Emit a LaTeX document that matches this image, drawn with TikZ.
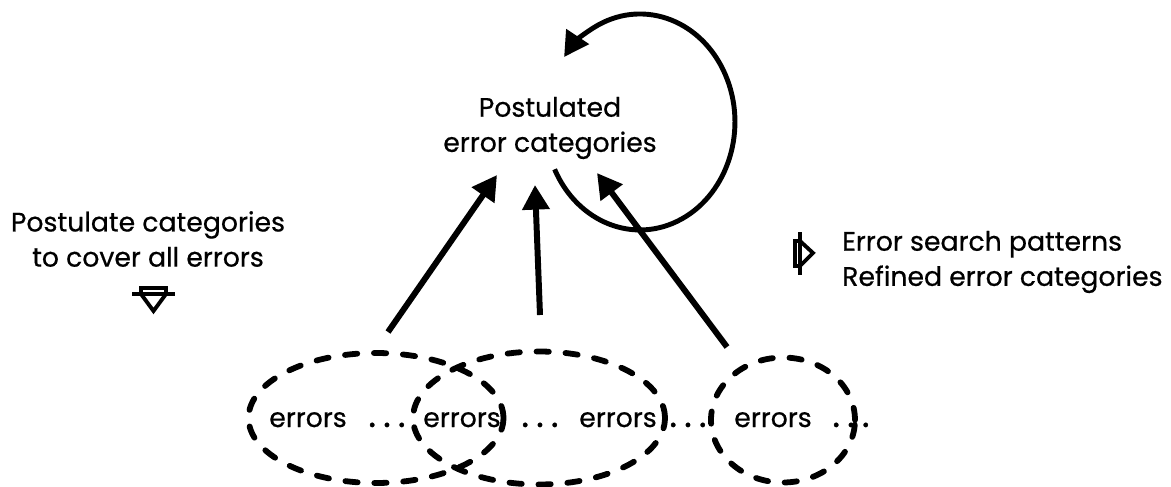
\documentclass[tikz,border=0pt]{standalone}
\usepackage{fontspec}
\setsansfont{Poppins}[FakeBold=0.6]
\usetikzlibrary{arrows.meta,shapes.geometric}
\tikzset{every picture/.style={/utils/exec={\sffamily}}}
\tikzset{
	bigarrow/.style={line width=3.4pt, -{Triangle[length=14pt,width=15pt]}},
	errset/.style={draw, ellipse, inner sep=0pt, line width=3.3pt, line cap=round, dash pattern=on 7pt off 9.5pt},
	hollow/.style={line width=2.2pt, line join=miter},
	word/.style={anchor=base, inner sep=0pt}
}
\newcommand{\gapdots}{{\fontsize{21}{21}\selectfont .\kern4pt.\kern4pt.}}

\begin{document}
\begin{tikzpicture}[x=0.02cm, y=-0.02cm, font=\fontsize{15.2}{20}\selectfont]
		\useasboundingbox (0,0) rectangle (1171,487);

		% the three sets of errors
		\node[errset, minimum width=5.1cm, minimum height=2.6cm] (e1) at (376,418) {};
		\node[errset, minimum width=5.04cm, minimum height=2.66cm] (e2) at (539,418) {};
		\node[errset, minimum width=2.88cm, minimum height=2.5cm] (e3) at (783,420) {};

		\node[word] (w1) at (308,427) {errors};
		\node[word] (d1) at (387,427) {\gapdots};
		\node[word] (w2) at (462,427) {errors};
		\node[word] (d2) at (540,427) {\gapdots};
		\node[word] (w3) at (618,427) {errors};
		\node[word] (d3) at (688,427) {\gapdots};
		\node[word] (w4) at (773,427) {errors};
		\node[word] (d4) at (851,427) {\gapdots};

		\node[align=center] (cat) at (550,128) {Postulated\\error categories};
		\node[align=center] (how) at (148,239) {Postulate categories\\to cover all errors};
		\node[align=left, anchor=west] (out) at (836,262) {Error search patterns\\Refined error categories};

		% arrows up to the categories
		\coordinate (t1) at (388,332);
		\coordinate (t2) at (540,315);
		\coordinate (t3) at (727,347);
		\coordinate (h1) at (497,175);
		\coordinate (h2) at (535,185);
		\coordinate (h3) at (597,173);
		\draw[bigarrow] (t1) -- (h1);
		\draw[bigarrow] (t2) -- (h2);
		\draw[bigarrow] (t3) -- (h3);

		% refinement loop
		\coordinate (lp) at (554.6,169.3);
		\draw[line width=2.8pt, -{Triangle[length=14pt,width=15pt]}] (lp) arc[start angle=206, end angle=503, x radius=1.9cm, y radius=2.16cm];

		% hollow marks
		\draw[hollow] (141,288) -- (166,288) -- (166,294) -- (153.5,311) -- (141,294) -- cycle;
		\draw[hollow] (132,294) -- (175,294);
		\draw[hollow] (795,241) -- (800,241) -- (813,253) -- (800,266) -- (795,266) -- cycle;
		\draw[hollow] (800,232) -- (800,275);
	\end{tikzpicture}
\end{document}
